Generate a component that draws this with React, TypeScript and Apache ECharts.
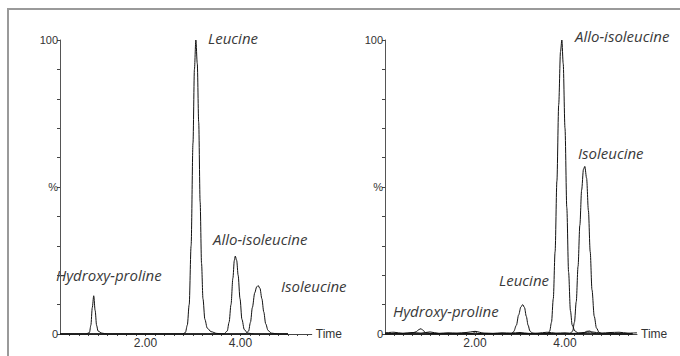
import React, { useEffect, useRef } from "react";
import * as echarts from "echarts";

// ---- Left chromatogram (retention time in min, relative intensity %) ----
const leftHydroxyProline: [number, number][] = [
  [0.2, 0], [0.75, 0], [0.82, 0.5], [0.85, 3], [0.88, 9], [0.91, 13], [0.94, 8], [0.97, 3], [1.0, 1], [1.08, 0.3], [1.2, 0], [5.0, 0],
];
const leftLeucine: [number, number][] = [
  [0.2, 0], [2.78, 0], [2.84, 0.5], [2.88, 3], [2.92, 10], [2.96, 30], [3.0, 65], [3.03, 90], [3.06, 100], [3.09, 92], [3.12, 72],
  [3.15, 45], [3.18, 24], [3.21, 12], [3.25, 5], [3.3, 2], [3.38, 0.8], [3.5, 0.2], [3.7, 0], [5.0, 0],
];
const leftAlloIsoleucine: [number, number][] = [
  [0.2, 0], [3.65, 0], [3.72, 1], [3.76, 4], [3.8, 10], [3.84, 19], [3.87, 25], [3.89, 26.5], [3.92, 25], [3.95, 20], [3.99, 12],
  [4.03, 5], [4.08, 1.5], [4.15, 0.3], [4.3, 0], [5.0, 0],
];
const leftIsoleucine: [number, number][] = [
  [0.2, 0], [4.1, 0], [4.17, 1], [4.21, 4], [4.25, 9], [4.3, 14], [4.34, 16], [4.37, 16.5], [4.41, 15.5], [4.45, 12], [4.49, 7.5],
  [4.53, 3.5], [4.58, 1.2], [4.65, 0.3], [4.8, 0], [5.0, 0],
];

// ---- Right chromatogram ----
const rightBaseline: [number, number][] = [
  [0.0, 0.4], [0.2, 0.6], [0.4, 0.2], [0.6, 0.5], [0.8, 0.3], [1.0, 0.7], [1.2, 0.2], [1.4, 0.4], [1.6, 0.3], [1.8, 0.5],
  [2.0, 0.9], [2.2, 0.3], [2.4, 0.2], [2.6, 0.4], [2.8, 0.3], [3.0, 0.5], [3.2, 0.2], [3.4, 0.3], [3.6, 0.6], [3.8, 0.3],
  [4.0, 0.4], [4.2, 0.2], [4.4, 0.5], [4.6, 0.7], [4.8, 0.3], [5.0, 0.5], [5.2, 0.6], [5.4, 0.3], [5.6, 0.4],
];
const rightHydroxyProline: [number, number][] = [
  [0.0, 0], [0.6, 0.3], [0.7, 0.8], [0.75, 1.5], [0.8, 1.8], [0.85, 1.2], [0.9, 0.5], [1.0, 0.2], [1.96, 0.2], [2.0, 0.8], [2.06, 0.2], [5.5, 0],
];
const rightLeucine: [number, number][] = [
  [0.0, 0], [2.8, 0], [2.86, 0.8], [2.92, 3], [2.97, 6.5], [3.02, 9.2], [3.06, 10], [3.1, 9], [3.14, 6], [3.18, 3], [3.22, 1],
  [3.28, 0.3], [3.4, 0], [4.4, 0], [4.48, 0.9], [4.55, 1], [4.62, 0.3], [4.7, 0], [5.5, 0],
];
const rightAlloIsoleucine: [number, number][] = [
  [0.0, 0], [3.6, 0], [3.66, 1], [3.7, 4], [3.74, 12], [3.78, 28], [3.82, 52], [3.86, 78], [3.9, 96], [3.93, 100], [3.96, 92],
  [4.0, 70], [4.04, 43], [4.08, 21], [4.12, 8], [4.16, 3], [4.22, 1], [4.3, 0.3], [4.45, 0], [5.5, 0],
];
const rightIsoleucine: [number, number][] = [
  [0.0, 0], [4.1, 0], [4.17, 1], [4.21, 4], [4.25, 11], [4.29, 23], [4.33, 37], [4.37, 49], [4.41, 56], [4.44, 57], [4.48, 53],
  [4.52, 42], [4.56, 28], [4.6, 15], [4.65, 6], [4.7, 2], [4.76, 0.5], [4.85, 0], [5.5, 0],
];

const xLabelValues = [2, 4];
const yLabelMap: Record<number, string> = { 0: "0", 50: "%", 100: "100" };

const leftAnnotations = [
  { text: "Leucine", x: 208, y: 38 },
  { text: "Allo-isoleucine", x: 213, y: 239 },
  { text: "Hydroxy-proline", x: 56, y: 275 },
  { text: "Isoleucine", x: 281, y: 286 },
];
const rightAnnotations = [
  { text: "Allo-isoleucine", x: 575, y: 36 },
  { text: "Isoleucine", x: 578, y: 153 },
  { text: "Leucine", x: 499, y: 280 },
  { text: "Hydroxy-proline", x: 393, y: 311 },
];

export default function App() {
  const ref = useRef<HTMLDivElement>(null);
  useEffect(() => {
    if (!ref.current) return;
    const chart = echarts.init(ref.current, undefined, { renderer: "svg" });
    const labelFont = "'Liberation Sans', Arial, sans-serif";
    const xAxisBase = (idx: number, min: number, max: number) => ({
      type: "value" as const,
      gridIndex: idx,
      min,
      max,
      interval: 0.2,
      name: "Time",
      nameLocation: "end" as const,
      nameGap: 4,
      nameTextStyle: { color: "#333", fontSize: 12, fontFamily: labelFont, verticalAlign: "middle" as const },
      axisLine: { show: true, onZero: false, lineStyle: { color: "#444", width: 1 } },
      axisTick: { show: true, length: 2, lineStyle: { color: "#444" } },
      splitLine: { show: false },
      axisLabel: {
        color: "#333",
        fontSize: 12,
        fontFamily: labelFont,
        margin: 3,
        showMinLabel: false,
        showMaxLabel: false,
        formatter: (v: number) => {
          for (const t of xLabelValues) if (Math.abs(v - t) < 1e-6) return t.toFixed(2);
          return "";
        },
      },
    });
    const yAxisBase = (idx: number) => ({
      type: "value" as const,
      gridIndex: idx,
      min: 0,
      max: 100,
      interval: 10,
      axisLine: { show: true, lineStyle: { color: "#555", width: 1 } },
      axisTick: { show: true, length: 3, lineStyle: { color: "#444" } },
      splitLine: { show: false },
      axisLabel: {
        color: "#333",
        fontSize: 11,
        fontFamily: labelFont,
        margin: 2,
        formatter: (v: number) => yLabelMap[Math.round(v)] ?? "",
      },
    });
    const line = (data: [number, number][], idx: number) => ({
      type: "line" as const,
      xAxisIndex: idx,
      yAxisIndex: idx,
      data,
      showSymbol: false,
      symbol: "none",
      smooth: 0.3,
      smoothMonotone: "x" as const,
      lineStyle: { color: "#111", width: 1 },
      silent: true,
    });
    const textEl = (a: { text: string; x: number; y: number }) => ({
      type: "text" as const,
      x: a.x,
      y: a.y,
      style: {
        text: a.text,
        fill: "#3a3a3a",
        font: "italic 15px 'Open Sans', 'Noto Sans', sans-serif",
        textVerticalAlign: "middle",
        verticalAlign: "middle",
      },
    });
    chart.setOption({
      animation: false,
      backgroundColor: "#fff",
      grid: [
        { left: 60, top: 40, width: 251.75, height: 294 },
        { left: 385, top: 40, width: 252, height: 294 },
      ],
      xAxis: [xAxisBase(0, 0.2, 5.5), xAxisBase(1, 0, 5.6)],
      yAxis: [yAxisBase(0), yAxisBase(1)],
      series: [
        line(leftHydroxyProline, 0),
        line(leftLeucine, 0),
        line(leftAlloIsoleucine, 0),
        line(leftIsoleucine, 0),
        line(rightBaseline, 1),
        line(rightHydroxyProline, 1),
        line(rightLeucine, 1),
        line(rightAlloIsoleucine, 1),
        line(rightIsoleucine, 1),
      ],
      graphic: [
        {
          type: "polyline",
          shape: { points: [[8, 360], [8, 9], [690, 9]] },
          style: { stroke: "#9a9a9a", lineWidth: 2, fill: "none" },
          silent: true,
        },
        ...leftAnnotations.map(textEl),
        ...rightAnnotations.map(textEl),
      ],
    });
    return () => chart.dispose();
  }, []);
  return (
    <div
      ref={ref}
      style={{ position: "fixed", left: 0, top: 0, width: 680, height: 356, background: "#fff" }}
    />
  );
}
